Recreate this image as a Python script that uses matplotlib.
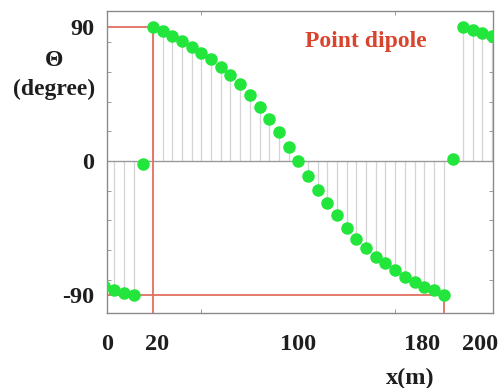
import matplotlib
matplotlib.use("Agg")
import matplotlib.pyplot as plt

# positions along the line (m) and angle of the field (degree)
x_m = [0, 5, 10, 15, 20, 25, 30, 35, 40, 45, 50, 55, 60, 65, 70, 75, 80, 85, 90, 95,
       100, 105, 110, 115, 120, 125, 130, 135, 140, 145, 150, 155, 160, 165, 170, 175,
       180, 185, 190, 195, 200]
theta = [-84.5, -87, -88.7, -90, -2, 90, 87.5, 84, 80.8, 76.8, 72.9, 68.5, 63.5, 57.6,
         51.6, 44.4, 36.4, 28.1, 19.3, 9.2, 0, -10.1, -19.5, -28.5, -36.7, -45.3, -52.5,
         -58.8, -64.4, -68.9, -73.4, -77.9, -81.3, -84.6, -86.9, -90, 1.3, 90, 88.2, 86,
         84.4]

# tick labels as printed under the axis
xlab_pos = [1.3, 27, 100, 164, 194]
xlab_txt = ["0", "20", "100", "180", "200"]
ylab_pos = [90, 0, -90]
ylab_txt = ["90", "0", "-90"]

# the two marked ends of the dipole window
x_left, x_right = 25, 175

serif = ["Liberation Serif", "DejaVu Serif"]
plt.rcParams["font.family"] = serif
plt.rcParams["font.weight"] = "bold"

fig = plt.figure(figsize=(5.04, 3.88), dpi=100)
ax = fig.add_axes([0.2123, 0.1933, 0.7659, 0.7784])
xmin, xmax = 1.3, 200.5
ymin, ymax = -102.4, 101
ax.set_xlim(xmin, xmax)
ax.set_ylim(ymin, ymax)

# stems + zero line
ax.vlines(x_m, 0, theta, color="#d4d4d4", lw=0.9, zorder=1)
ax.axhline(0, color="#9a9a9a", lw=1.0, zorder=1)

# red guide lines
red = "#e0705e"
ax.plot([xmin, x_left], [90, 90], color=red, lw=1.3, zorder=2)
ax.plot([x_left, x_left], [90, ymin], color=red, lw=1.3, zorder=2)
ax.plot([xmin, x_right], [-90, -90], color=red, lw=1.3, zorder=2)
ax.plot([x_right, x_right], [-90, ymin], color=red, lw=1.3, zorder=2)

ax.plot(x_m, theta, "o", color="#22e63c", ms=8, mec="#22e63c", zorder=3)

for s in ax.spines.values():
    s.set_color("#8a8a8a")
    s.set_linewidth(1.0)

ax.set_xticks(xlab_pos)
ax.set_xticklabels(xlab_txt)
ax.set_xticks([50, 100, 150], minor=True)
ax.set_yticks(ylab_pos)
ax.set_yticklabels(ylab_txt)
ax.set_yticks([-80, -60, -40, -20, 20, 40, 60, 80], minor=True)
ax.tick_params(axis="both", which="major", length=0, labelsize=17.5,
               labelcolor="#1e1e1e")
ax.tick_params(axis="x", which="major", pad=15)
ax.tick_params(axis="y", which="major", pad=9)
ax.tick_params(which="minor", direction="in", length=3, color="#8a8a8a",
               top=True, right=True)

fig.text(0.107, 0.806, "Θ\n(degree)", ha="center", va="center", fontsize=17,
         fontweight="bold", color="#1e1e1e", linespacing=1.5)
ax.text(0.67, 0.9, "Point dipole", transform=ax.transAxes, ha="center",
        va="center", fontsize=17, fontweight="bold", color="#d9442e")
fig.text(0.813, 0.024, "x(m)", ha="center", va="center", fontsize=17.5,
         fontweight="bold", color="#1e1e1e")

fig.savefig("out.png", dpi=100)
